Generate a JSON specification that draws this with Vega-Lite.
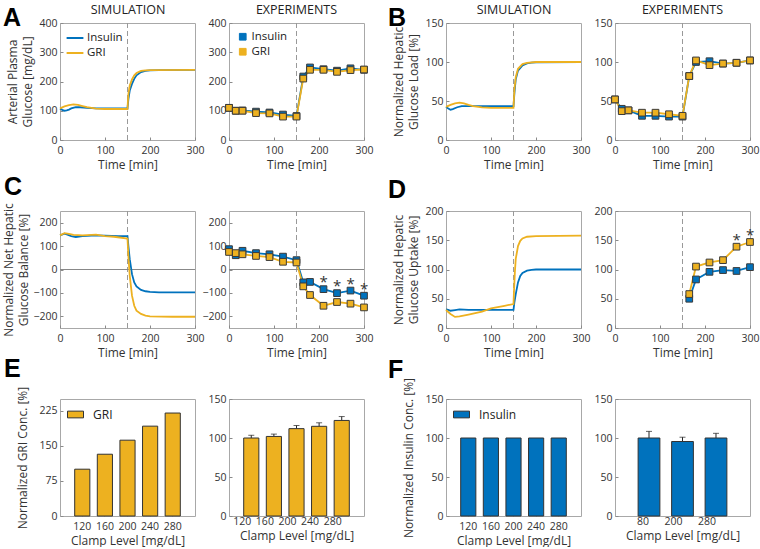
{
  "$schema": "https://vega.github.io/schema/vega-lite/v6.json",
  "padding": {"left": 2, "top": 2, "right": 0, "bottom": 0},
  "background": "white",
  "columns": 5,
  "bounds": "flush",
  "align": "each",
  "spacing": {"row": 71, "column": 34},
  "datasets": {
    "one": [{}],
    "simA": [
      {"t":0,"v":108,"s":"Insulin"},{"t":5,"v":103,"s":"Insulin"},{"t":10,"v":100,"s":"Insulin"},{"t":15,"v":101,"s":"Insulin"},{"t":20,"v":104,"s":"Insulin"},{"t":25,"v":108,"s":"Insulin"},{"t":35,"v":112,"s":"Insulin"},{"t":45,"v":112,"s":"Insulin"},{"t":60,"v":110,"s":"Insulin"},{"t":80,"v":108,"s":"Insulin"},{"t":100,"v":108,"s":"Insulin"},{"t":150,"v":108,"s":"Insulin"},{"t":152,"v":140,"s":"Insulin"},{"t":155,"v":169,"s":"Insulin"},{"t":160,"v":192,"s":"Insulin"},{"t":165,"v":209,"s":"Insulin"},{"t":170,"v":221,"s":"Insulin"},{"t":180,"v":232,"s":"Insulin"},{"t":190,"v":236,"s":"Insulin"},{"t":200,"v":238,"s":"Insulin"},{"t":220,"v":239,"s":"Insulin"},{"t":300,"v":240,"s":"Insulin"},
      {"t":0,"v":108,"s":"GRI"},{"t":10,"v":115,"s":"GRI"},{"t":20,"v":119,"s":"GRI"},{"t":30,"v":122,"s":"GRI"},{"t":40,"v":120,"s":"GRI"},{"t":50,"v":116,"s":"GRI"},{"t":60,"v":112,"s":"GRI"},{"t":80,"v":107,"s":"GRI"},{"t":100,"v":106,"s":"GRI"},{"t":150,"v":106,"s":"GRI"},{"t":151,"v":135,"s":"GRI"},{"t":152,"v":157,"s":"GRI"},{"t":155,"v":186,"s":"GRI"},{"t":160,"v":207,"s":"GRI"},{"t":165,"v":221,"s":"GRI"},{"t":170,"v":229,"s":"GRI"},{"t":180,"v":236,"s":"GRI"},{"t":190,"v":238,"s":"GRI"},{"t":200,"v":239,"s":"GRI"},{"t":300,"v":240,"s":"GRI"}
    ],
    "expA": [
      {"t":0,"v":110,"s":"Insulin"},{"t":15,"v":100,"s":"Insulin"},{"t":30,"v":101,"s":"Insulin"},{"t":60,"v":97,"s":"Insulin"},{"t":90,"v":94,"s":"Insulin"},{"t":120,"v":87,"s":"Insulin"},{"t":150,"v":82,"s":"Insulin"},{"t":165,"v":217,"s":"Insulin"},{"t":180,"v":248,"s":"Insulin"},{"t":210,"v":242,"s":"Insulin"},{"t":240,"v":237,"s":"Insulin"},{"t":270,"v":245,"s":"Insulin"},{"t":300,"v":240,"s":"Insulin"},
      {"t":0,"v":110,"s":"GRI"},{"t":15,"v":100,"s":"GRI"},{"t":30,"v":100,"s":"GRI"},{"t":60,"v":92,"s":"GRI"},{"t":90,"v":91,"s":"GRI"},{"t":120,"v":80,"s":"GRI"},{"t":150,"v":80,"s":"GRI"},{"t":165,"v":210,"s":"GRI"},{"t":180,"v":240,"s":"GRI"},{"t":210,"v":240,"s":"GRI"},{"t":240,"v":233,"s":"GRI"},{"t":270,"v":239,"s":"GRI"},{"t":300,"v":241,"s":"GRI"}
    ],
    "simB": [
      {"t":0,"v":42.5,"s":"Insulin"},{"t":5,"v":40.5,"s":"Insulin"},{"t":10,"v":38.8,"s":"Insulin"},{"t":15,"v":39.5,"s":"Insulin"},{"t":25,"v":42,"s":"Insulin"},{"t":35,"v":43.5,"s":"Insulin"},{"t":50,"v":43.5,"s":"Insulin"},{"t":150,"v":43.5,"s":"Insulin"},{"t":152,"v":60,"s":"Insulin"},{"t":155,"v":78,"s":"Insulin"},{"t":160,"v":89,"s":"Insulin"},{"t":170,"v":95.7,"s":"Insulin"},{"t":180,"v":98.3,"s":"Insulin"},{"t":190,"v":99.2,"s":"Insulin"},{"t":200,"v":99.6,"s":"Insulin"},{"t":300,"v":100,"s":"Insulin"},
      {"t":0,"v":42.5,"s":"GRI"},{"t":10,"v":45,"s":"GRI"},{"t":20,"v":47,"s":"GRI"},{"t":30,"v":47.8,"s":"GRI"},{"t":40,"v":47,"s":"GRI"},{"t":50,"v":45,"s":"GRI"},{"t":60,"v":43.3,"s":"GRI"},{"t":80,"v":41.8,"s":"GRI"},{"t":100,"v":41.2,"s":"GRI"},{"t":150,"v":41.2,"s":"GRI"},{"t":152,"v":65,"s":"GRI"},{"t":155,"v":80.5,"s":"GRI"},{"t":160,"v":91.3,"s":"GRI"},{"t":170,"v":97.4,"s":"GRI"},{"t":180,"v":99,"s":"GRI"},{"t":200,"v":100,"s":"GRI"},{"t":300,"v":100,"s":"GRI"}
    ],
    "expB": [
      {"t":0,"v":52,"s":"Insulin"},{"t":15,"v":40,"s":"Insulin"},{"t":30,"v":38,"s":"Insulin"},{"t":60,"v":31,"s":"Insulin"},{"t":90,"v":31,"s":"Insulin"},{"t":120,"v":30,"s":"Insulin"},{"t":150,"v":30,"s":"Insulin"},{"t":165,"v":82,"s":"Insulin"},{"t":180,"v":100,"s":"Insulin"},{"t":210,"v":101,"s":"Insulin"},{"t":240,"v":98,"s":"Insulin"},{"t":270,"v":99,"s":"Insulin"},{"t":300,"v":102,"s":"Insulin"},
      {"t":0,"v":52,"s":"GRI"},{"t":15,"v":37,"s":"GRI"},{"t":30,"v":38,"s":"GRI"},{"t":60,"v":35,"s":"GRI"},{"t":90,"v":35,"s":"GRI"},{"t":120,"v":33,"s":"GRI"},{"t":150,"v":31,"s":"GRI"},{"t":165,"v":82,"s":"GRI"},{"t":180,"v":102,"s":"GRI"},{"t":210,"v":96,"s":"GRI"},{"t":240,"v":98,"s":"GRI"},{"t":270,"v":99,"s":"GRI"},{"t":300,"v":102,"s":"GRI"}
    ],
    "simC": [
      {"t":0,"v":146,"s":"Insulin"},{"t":10,"v":153,"s":"Insulin"},{"t":15,"v":150,"s":"Insulin"},{"t":25,"v":143,"s":"Insulin"},{"t":35,"v":139,"s":"Insulin"},{"t":50,"v":143,"s":"Insulin"},{"t":80,"v":146,"s":"Insulin"},{"t":100,"v":145,"s":"Insulin"},{"t":130,"v":143,"s":"Insulin"},{"t":150,"v":143,"s":"Insulin"},{"t":152,"v":100,"s":"Insulin"},{"t":155,"v":44,"s":"Insulin"},{"t":160,"v":-20,"s":"Insulin"},{"t":165,"v":-55,"s":"Insulin"},{"t":170,"v":-72,"s":"Insulin"},{"t":180,"v":-87,"s":"Insulin"},{"t":190,"v":-93,"s":"Insulin"},{"t":200,"v":-96,"s":"Insulin"},{"t":220,"v":-98,"s":"Insulin"},{"t":300,"v":-98,"s":"Insulin"},
      {"t":0,"v":146,"s":"GRI"},{"t":10,"v":155,"s":"GRI"},{"t":20,"v":152,"s":"GRI"},{"t":30,"v":148,"s":"GRI"},{"t":50,"v":146,"s":"GRI"},{"t":70,"v":148,"s":"GRI"},{"t":80,"v":149,"s":"GRI"},{"t":100,"v":143,"s":"GRI"},{"t":120,"v":140,"s":"GRI"},{"t":150,"v":132,"s":"GRI"},{"t":152,"v":58,"s":"GRI"},{"t":155,"v":-27,"s":"GRI"},{"t":160,"v":-112,"s":"GRI"},{"t":165,"v":-155,"s":"GRI"},{"t":170,"v":-176,"s":"GRI"},{"t":180,"v":-190,"s":"GRI"},{"t":190,"v":-197,"s":"GRI"},{"t":200,"v":-200,"s":"GRI"},{"t":250,"v":-202,"s":"GRI"},{"t":300,"v":-202,"s":"GRI"}
    ],
    "expC": [
      {"t":0,"v":87,"s":"Insulin"},{"t":15,"v":61,"s":"Insulin"},{"t":30,"v":80,"s":"Insulin"},{"t":60,"v":70,"s":"Insulin"},{"t":90,"v":65,"s":"Insulin"},{"t":120,"v":55,"s":"Insulin"},{"t":150,"v":40,"s":"Insulin"},{"t":165,"v":-55,"s":"Insulin"},{"t":180,"v":-53,"s":"Insulin"},{"t":210,"v":-84,"s":"Insulin"},{"t":240,"v":-101,"s":"Insulin"},{"t":270,"v":-90,"s":"Insulin"},{"t":300,"v":-112,"s":"Insulin"},
      {"t":0,"v":75,"s":"GRI"},{"t":15,"v":70,"s":"GRI"},{"t":30,"v":65,"s":"GRI"},{"t":60,"v":58,"s":"GRI"},{"t":90,"v":53,"s":"GRI"},{"t":120,"v":33,"s":"GRI"},{"t":150,"v":30,"s":"GRI"},{"t":165,"v":-72,"s":"GRI"},{"t":180,"v":-109,"s":"GRI"},{"t":210,"v":-155,"s":"GRI"},{"t":240,"v":-139,"s":"GRI"},{"t":270,"v":-146,"s":"GRI"},{"t":300,"v":-162,"s":"GRI"}
    ],
    "starsC": [
      {"t":210,"v":-84},{"t":240,"v":-101},{"t":270,"v":-90},{"t":300,"v":-112}
    ],
    "simD": [
      {"t":0,"v":32,"s":"Insulin"},{"t":5,"v":31,"s":"Insulin"},{"t":10,"v":29.5,"s":"Insulin"},{"t":20,"v":30.7,"s":"Insulin"},{"t":30,"v":31.8,"s":"Insulin"},{"t":50,"v":31,"s":"Insulin"},{"t":150,"v":31,"s":"Insulin"},{"t":152,"v":44,"s":"Insulin"},{"t":155,"v":58,"s":"Insulin"},{"t":160,"v":78,"s":"Insulin"},{"t":165,"v":89,"s":"Insulin"},{"t":170,"v":94,"s":"Insulin"},{"t":180,"v":98,"s":"Insulin"},{"t":190,"v":99.4,"s":"Insulin"},{"t":200,"v":100,"s":"Insulin"},{"t":300,"v":100,"s":"Insulin"},
      {"t":0,"v":30.7,"s":"GRI"},{"t":10,"v":24,"s":"GRI"},{"t":20,"v":19,"s":"GRI"},{"t":30,"v":20,"s":"GRI"},{"t":50,"v":23,"s":"GRI"},{"t":80,"v":28,"s":"GRI"},{"t":100,"v":33.5,"s":"GRI"},{"t":130,"v":38,"s":"GRI"},{"t":150,"v":41,"s":"GRI"},{"t":151,"v":61,"s":"GRI"},{"t":153,"v":95,"s":"GRI"},{"t":155,"v":118,"s":"GRI"},{"t":160,"v":140,"s":"GRI"},{"t":165,"v":149,"s":"GRI"},{"t":170,"v":153,"s":"GRI"},{"t":180,"v":156,"s":"GRI"},{"t":200,"v":157,"s":"GRI"},{"t":300,"v":158,"s":"GRI"}
    ],
    "expD": [
      {"t":165,"v":50,"s":"Insulin"},{"t":180,"v":83,"s":"Insulin"},{"t":210,"v":96,"s":"Insulin"},{"t":240,"v":99,"s":"Insulin"},{"t":270,"v":97.5,"s":"Insulin"},{"t":300,"v":104,"s":"Insulin"},
      {"t":165,"v":58,"s":"GRI"},{"t":180,"v":105,"s":"GRI"},{"t":210,"v":112,"s":"GRI"},{"t":240,"v":116,"s":"GRI"},{"t":270,"v":139,"s":"GRI"},{"t":300,"v":147,"s":"GRI"}
    ],
    "starsD": [
      {"t":270,"v":139},{"t":300,"v":147}
    ],
    "barEsim": [
      {"c":"120","v":100,"g":"GRI"},{"c":"160","v":132,"g":"GRI"},{"c":"200","v":162,"g":"GRI"},{"c":"240","v":192,"g":"GRI"},{"c":"280","v":220,"g":"GRI"}
    ],
    "barEexp": [
      {"c":"120","v":100,"e":103.5},{"c":"160","v":102,"e":105},{"c":"200","v":112,"e":116},{"c":"240","v":115,"e":119.5},{"c":"280","v":122.5,"e":127.5}
    ],
    "barFsim": [
      {"c":"120","v":100,"g":"Insulin"},{"c":"160","v":100,"g":"Insulin"},{"c":"200","v":100,"g":"Insulin"},{"c":"240","v":100,"g":"Insulin"},{"c":"280","v":100,"g":"Insulin"}
    ],
    "barFexp": [
      {"c":"80","v":100,"e":108.5},{"c":"200","v":95.5,"e":101},{"c":"280","v":100,"e":106}
    ]
  },
  "concat": [
    {
      "width": 135, "height": 117,
      "title": {"text": "A", "anchor": "start", "frame": "group", "dx": -57, "font": "Liberation Sans", "fontSize": 25, "fontWeight": "bold", "color": "#000", "offset": -28},
      "layer": [
        {"data": {"name": "one"}, "mark": {"type": "rule", "color": "#999", "strokeDash": [5, 3]}, "encoding": {"x": {"datum": 150, "type": "quantitative", "axis": null}}},
        {"data": {"name": "simA"}, "mark": {"type": "line", "strokeWidth": 1.8},
         "encoding": {
           "x": {"field": "t", "type": "quantitative", "scale": {"domain": [0, 300], "nice": false}, "axis": {"values": [0, 100, 200, 300], "tickCount": 4, "title": "Time [min]"}},
           "y": {"field": "v", "type": "quantitative", "scale": {"domain": [0, 400], "nice": false}, "axis": {"values": [0, 100, 200, 300, 400], "tickCount": 5, "labelOverlap": false, "title": ["Arterial Plasma", "Glucose [mg/dL]"]}},
           "color": {"field": "s", "type": "nominal", "scale": {"domain": ["Insulin", "GRI"], "range": ["#0072BD", "#EDB120"]}, "legend": {"orient": "top-left", "offset": 8, "title": null, "symbolType": "M-1.4,0H1.4", "symbolSize": 144, "symbolStrokeWidth": 2, "rowPadding": 2, "labelOffset": 5, "labelFontSize": 11.5}}
         }},
        {"data": {"name": "simA"}, "mark": {"type": "point", "opacity": 0},
         "encoding": {"x": {"field": "t", "type": "quantitative", "axis": {"orient": "top", "title": "SIMULATION", "labels": false, "ticks": false, "domain": false, "titleFontSize": 12.5, "titleColor": "#222", "titlePadding": 7}}}}
      ],
      "resolve": {"axis": {"x": "independent"}}
    },
    {
      "width": 135, "height": 117,
      "title": {"text": "EXPERIMENTS", "fontSize": 12.5, "fontWeight": "normal", "font": "Open Sans", "color": "#222", "offset": 2},
      "data": {"name": "expA"},
      "layer": [
        {"data": {"name": "one"}, "mark": {"type": "rule", "color": "#999", "strokeDash": [5, 3]}, "encoding": {"x": {"datum": 150, "type": "quantitative"}}},
        {"mark": {"type": "line", "strokeWidth": 1.8},
         "encoding": {
           "x": {"field": "t", "type": "quantitative", "scale": {"domain": [0, 300], "nice": false}, "axis": {"values": [0, 100, 200, 300], "tickCount": 4, "title": "Time [min]"}},
           "y": {"field": "v", "type": "quantitative", "scale": {"domain": [0, 400], "nice": false}, "axis": {"values": [0, 100, 200, 300, 400], "tickCount": 5, "labelOverlap": false, "title": null}},
           "color": {"field": "s", "type": "nominal", "scale": {"domain": ["Insulin", "GRI"], "range": ["#0072BD", "#EDB120"]}, "legend": {"orient": "top-left", "offset": 8, "title": null, "symbolType": "square", "symbolSize": 45, "symbolStrokeWidth": 1, "rowPadding": 2, "labelFontSize": 11.5}}
         }},
        {"mark": {"type": "point", "shape": "square", "filled": true, "size": 45, "opacity": 1, "strokeWidth": 1, "stroke": "#3a3a3a"},
         "encoding": {
           "x": {"field": "t", "type": "quantitative"},
           "y": {"field": "v", "type": "quantitative"},
           "fill": {"field": "s", "type": "nominal", "scale": {"domain": ["Insulin", "GRI"], "range": ["#0072BD", "#EDB120"]}, "legend": {"orient": "top-left", "offset": 8, "title": null, "symbolType": "square", "symbolSize": 45, "symbolStrokeWidth": 1, "rowPadding": 2, "labelFontSize": 11.5}}
         }}
      ]
    },
    {"width": 14, "height": 117, "data": {"values": []}, "mark": "point", "view": {"stroke": null}},
    {
      "width": 135, "height": 117,
      "title": {"text": "B", "anchor": "start", "frame": "group", "dx": -58, "font": "Liberation Sans", "fontSize": 25, "fontWeight": "bold", "color": "#000", "offset": -28},
      "layer": [
        {"data": {"name": "one"}, "mark": {"type": "rule", "color": "#999", "strokeDash": [5, 3]}, "encoding": {"x": {"datum": 150, "type": "quantitative", "axis": null}}},
        {"data": {"name": "simB"}, "mark": {"type": "line", "strokeWidth": 1.8},
         "encoding": {
           "x": {"field": "t", "type": "quantitative", "scale": {"domain": [0, 300], "nice": false}, "axis": {"values": [0, 100, 200, 300], "tickCount": 4, "title": "Time [min]"}},
           "y": {"field": "v", "type": "quantitative", "scale": {"domain": [0, 150], "nice": false}, "axis": {"values": [0, 50, 100, 150], "tickCount": 4, "labelOverlap": false, "title": ["Normalized Hepatic", "Glucose Load [%]"]}},
           "color": {"field": "s", "type": "nominal", "scale": {"domain": ["Insulin", "GRI"], "range": ["#0072BD", "#EDB120"]}, "legend": null}
         }},
        {"data": {"name": "simB"}, "mark": {"type": "point", "opacity": 0},
         "encoding": {"x": {"field": "t", "type": "quantitative", "axis": {"orient": "top", "title": "SIMULATION", "labels": false, "ticks": false, "domain": false, "titleFontSize": 12.5, "titleColor": "#222", "titlePadding": 7}}}}
      ],
      "resolve": {"axis": {"x": "independent"}}
    },
    {
      "width": 135, "height": 117,
      "title": {"text": "EXPERIMENTS", "fontSize": 12.5, "fontWeight": "normal", "font": "Open Sans", "color": "#222", "offset": 2},
      "data": {"name": "expB"},
      "layer": [
        {"data": {"name": "one"}, "mark": {"type": "rule", "color": "#999", "strokeDash": [5, 3]}, "encoding": {"x": {"datum": 150, "type": "quantitative"}}},
        {"mark": {"type": "line", "strokeWidth": 1.8},
         "encoding": {
           "x": {"field": "t", "type": "quantitative", "scale": {"domain": [0, 300], "nice": false}, "axis": {"values": [0, 100, 200, 300], "tickCount": 4, "title": "Time [min]"}},
           "y": {"field": "v", "type": "quantitative", "scale": {"domain": [0, 150], "nice": false}, "axis": {"values": [0, 50, 100, 150], "tickCount": 4, "labelOverlap": false, "title": null}},
           "color": {"field": "s", "type": "nominal", "scale": {"domain": ["Insulin", "GRI"], "range": ["#0072BD", "#EDB120"]}, "legend": null}
         }},
        {"mark": {"type": "point", "shape": "square", "filled": true, "size": 45, "opacity": 1, "strokeWidth": 1, "stroke": "#3a3a3a"},
         "encoding": {
           "x": {"field": "t", "type": "quantitative"},
           "y": {"field": "v", "type": "quantitative"},
           "fill": {"field": "s", "type": "nominal", "scale": {"domain": ["Insulin", "GRI"], "range": ["#0072BD", "#EDB120"]}, "legend": null}
         }}
      ]
    },
    {
      "width": 135, "height": 117,
      "title": {"text": "C", "anchor": "start", "frame": "group", "dx": -56, "font": "Liberation Sans", "fontSize": 25, "fontWeight": "bold", "color": "#000", "offset": 3},
      "layer": [
        {"data": {"name": "one"}, "mark": {"type": "rule", "color": "#999", "strokeDash": [5, 3]}, "encoding": {"x": {"datum": 150, "type": "quantitative"}}},
        {"data": {"name": "one"}, "mark": {"type": "rule", "color": "#888", "strokeWidth": 1}, "encoding": {"y": {"datum": 0, "type": "quantitative"}}},
        {"data": {"name": "simC"}, "mark": {"type": "line", "strokeWidth": 1.8},
         "encoding": {
           "x": {"field": "t", "type": "quantitative", "scale": {"domain": [0, 300], "nice": false}, "axis": {"values": [0, 100, 200, 300], "tickCount": 4, "title": "Time [min]"}},
           "y": {"field": "v", "type": "quantitative", "scale": {"domain": [-250, 250], "nice": false}, "axis": {"values": [-200, -100, 0, 100, 200], "tickCount": 5, "labelOverlap": false, "titlePadding": 2, "title": ["Normalized Net Hepatic", "Glucose Balance [%]"]}},
           "color": {"field": "s", "type": "nominal", "scale": {"domain": ["Insulin", "GRI"], "range": ["#0072BD", "#EDB120"]}, "legend": null}
         }}
      ]
    },
    {
      "width": 135, "height": 117,
      "layer": [
        {"data": {"name": "one"}, "mark": {"type": "rule", "color": "#999", "strokeDash": [5, 3]}, "encoding": {"x": {"datum": 150, "type": "quantitative"}}},
        {"data": {"name": "one"}, "mark": {"type": "rule", "color": "#888", "strokeWidth": 1}, "encoding": {"y": {"datum": 0, "type": "quantitative"}}},
        {"data": {"name": "expC"}, "mark": {"type": "line", "strokeWidth": 1.8},
         "encoding": {
           "x": {"field": "t", "type": "quantitative", "scale": {"domain": [0, 300], "nice": false}, "axis": {"values": [0, 100, 200, 300], "tickCount": 4, "title": "Time [min]"}},
           "y": {"field": "v", "type": "quantitative", "scale": {"domain": [-250, 250], "nice": false}, "axis": {"values": [-200, -100, 0, 100, 200], "tickCount": 5, "labelOverlap": false, "title": null}},
           "color": {"field": "s", "type": "nominal", "scale": {"domain": ["Insulin", "GRI"], "range": ["#0072BD", "#EDB120"]}, "legend": null}
         }},
        {"data": {"name": "expC"}, "mark": {"type": "point", "shape": "square", "filled": true, "size": 45, "opacity": 1, "strokeWidth": 1, "stroke": "#3a3a3a"},
         "encoding": {
           "x": {"field": "t", "type": "quantitative"},
           "y": {"field": "v", "type": "quantitative"},
           "fill": {"field": "s", "type": "nominal", "scale": {"domain": ["Insulin", "GRI"], "range": ["#0072BD", "#EDB120"]}, "legend": null}
         }},
        {"data": {"name": "starsC"}, "mark": {"type": "text", "text": "*", "fontSize": 15, "color": "#333", "dy": -7},
         "encoding": {"x": {"field": "t", "type": "quantitative"}, "y": {"field": "v", "type": "quantitative"}}}
      ]
    },
    {"width": 14, "height": 117, "data": {"values": []}, "mark": "point", "view": {"stroke": null}},
    {
      "width": 135, "height": 117,
      "title": {"text": "D", "anchor": "start", "frame": "group", "dx": -58, "font": "Liberation Sans", "fontSize": 25, "fontWeight": "bold", "color": "#000", "offset": 3},
      "layer": [
        {"data": {"name": "one"}, "mark": {"type": "rule", "color": "#999", "strokeDash": [5, 3]}, "encoding": {"x": {"datum": 150, "type": "quantitative"}}},
        {"data": {"name": "simD"}, "mark": {"type": "line", "strokeWidth": 1.8},
         "encoding": {
           "x": {"field": "t", "type": "quantitative", "scale": {"domain": [0, 300], "nice": false}, "axis": {"values": [0, 100, 200, 300], "tickCount": 4, "title": "Time [min]"}},
           "y": {"field": "v", "type": "quantitative", "scale": {"domain": [0, 200], "nice": false}, "axis": {"values": [0, 50, 100, 150, 200], "tickCount": 5, "labelOverlap": false, "title": ["Normalized Hepatic", "Glucose Uptake [%]"]}},
           "color": {"field": "s", "type": "nominal", "scale": {"domain": ["Insulin", "GRI"], "range": ["#0072BD", "#EDB120"]}, "legend": null}
         }}
      ]
    },
    {
      "width": 135, "height": 117,
      "layer": [
        {"data": {"name": "one"}, "mark": {"type": "rule", "color": "#999", "strokeDash": [5, 3]}, "encoding": {"x": {"datum": 150, "type": "quantitative"}}},
        {"data": {"name": "expD"}, "mark": {"type": "line", "strokeWidth": 1.8},
         "encoding": {
           "x": {"field": "t", "type": "quantitative", "scale": {"domain": [0, 300], "nice": false}, "axis": {"values": [0, 100, 200, 300], "tickCount": 4, "title": "Time [min]"}},
           "y": {"field": "v", "type": "quantitative", "scale": {"domain": [0, 200], "nice": false}, "axis": {"values": [0, 50, 100, 150, 200], "tickCount": 5, "labelOverlap": false, "title": null}},
           "color": {"field": "s", "type": "nominal", "scale": {"domain": ["Insulin", "GRI"], "range": ["#0072BD", "#EDB120"]}, "legend": null}
         }},
        {"data": {"name": "expD"}, "mark": {"type": "point", "shape": "square", "filled": true, "size": 45, "opacity": 1, "strokeWidth": 1, "stroke": "#3a3a3a"},
         "encoding": {
           "x": {"field": "t", "type": "quantitative"},
           "y": {"field": "v", "type": "quantitative"},
           "fill": {"field": "s", "type": "nominal", "scale": {"domain": ["Insulin", "GRI"], "range": ["#0072BD", "#EDB120"]}, "legend": null}
         }},
        {"data": {"name": "starsD"}, "mark": {"type": "text", "text": "*", "fontSize": 15, "color": "#333", "dy": -7},
         "encoding": {"x": {"field": "t", "type": "quantitative"}, "y": {"field": "v", "type": "quantitative"}}}
      ]
    },
    {
      "width": 135, "height": 117,
      "title": {"text": "E", "anchor": "start", "frame": "group", "dx": -56, "font": "Liberation Sans", "fontSize": 25, "fontWeight": "bold", "color": "#000", "offset": 4},
      "data": {"name": "barEsim"},
      "mark": {"type": "bar", "stroke": "#333", "strokeWidth": 1},
      "encoding": {
        "x": {"field": "c", "type": "nominal", "sort": null, "scale": {"paddingInner": 0.33, "paddingOuter": 0.65}, "axis": {"title": "Clamp Level [mg/dL]", "labelAngle": 0}},
        "y": {"field": "v", "type": "quantitative", "scale": {"domain": [0, 250], "nice": false}, "axis": {"values": [0, 75, 150, 225], "tickCount": 4, "labelOverlap": false, "titlePadding": 9, "title": "Normalized GRI Conc. [%]"}},
        "fill": {"field": "g", "type": "nominal", "scale": {"domain": ["GRI"], "range": ["#EDB120"]}, "legend": {"orient": "top-left", "offset": 7, "title": null, "symbolType": "M-1,-0.42H1V0.42H-1Z", "symbolSize": 256, "symbolStrokeColor": "#333", "symbolStrokeWidth": 1, "labelOffset": 9}}
      }
    },
    {
      "width": 135, "height": 117,
      "data": {"name": "barEexp"},
      "layer": [
        {"mark": {"type": "rule", "color": "#222", "strokeWidth": 1}, "encoding": {"x": {"field": "c", "type": "nominal", "sort": null}, "y": {"field": "v", "type": "quantitative"}, "y2": {"field": "e"}}},
        {"mark": {"type": "tick", "color": "#222", "thickness": 1, "size": 6}, "encoding": {"x": {"field": "c", "type": "nominal", "sort": null}, "y": {"field": "e", "type": "quantitative"}}},
        {"mark": {"type": "bar", "fill": "#EDB120", "stroke": "#333", "strokeWidth": 1},
         "encoding": {
           "x": {"field": "c", "type": "nominal", "sort": null, "scale": {"paddingInner": 0.33, "paddingOuter": 0.65}, "axis": {"title": "Clamp Level [mg/dL]", "labelAngle": 0}},
           "y": {"field": "v", "type": "quantitative", "scale": {"domain": [0, 150], "nice": false}, "axis": {"values": [0, 50, 100, 150], "tickCount": 4, "labelOverlap": false, "title": null}}
         }}
      ]
    },
    {"width": 14, "height": 117, "data": {"values": []}, "mark": "point", "view": {"stroke": null}},
    {
      "width": 135, "height": 117,
      "title": {"text": "F", "anchor": "start", "frame": "group", "dx": -58, "font": "Liberation Sans", "fontSize": 25, "fontWeight": "bold", "color": "#000", "offset": -6},
      "data": {"name": "barFsim"},
      "mark": {"type": "bar", "stroke": "#333", "strokeWidth": 1},
      "encoding": {
        "x": {"field": "c", "type": "nominal", "sort": null, "scale": {"paddingInner": 0.33, "paddingOuter": 0.65}, "axis": {"title": "Clamp Level [mg/dL]", "labelAngle": 0}},
        "y": {"field": "v", "type": "quantitative", "scale": {"domain": [0, 150], "nice": false}, "axis": {"values": [0, 50, 100, 150], "tickCount": 4, "labelOverlap": false, "titlePadding": 9, "title": "Normalized Insulin Conc. [%]"}},
        "fill": {"field": "g", "type": "nominal", "scale": {"domain": ["Insulin"], "range": ["#0072BD"]}, "legend": {"orient": "top-left", "offset": 7, "title": null, "symbolType": "M-1,-0.42H1V0.42H-1Z", "symbolSize": 256, "symbolStrokeColor": "#333", "symbolStrokeWidth": 1, "labelOffset": 9}}
      }
    },
    {
      "width": 135, "height": 117,
      "data": {"name": "barFexp"},
      "layer": [
        {"mark": {"type": "rule", "color": "#222", "strokeWidth": 1}, "encoding": {"x": {"field": "c", "type": "nominal", "sort": null}, "y": {"field": "v", "type": "quantitative"}, "y2": {"field": "e"}}},
        {"mark": {"type": "tick", "color": "#222", "thickness": 1, "size": 6}, "encoding": {"x": {"field": "c", "type": "nominal", "sort": null}, "y": {"field": "e", "type": "quantitative"}}},
        {"mark": {"type": "bar", "fill": "#0072BD", "stroke": "#333", "strokeWidth": 1},
         "encoding": {
           "x": {"field": "c", "type": "nominal", "sort": null, "scale": {"paddingInner": 0.35, "paddingOuter": 0.69}, "axis": {"title": "Clamp Level [mg/dL]", "labelAngle": 0}},
           "y": {"field": "v", "type": "quantitative", "scale": {"domain": [0, 150], "nice": false}, "axis": {"values": [0, 50, 100, 150], "tickCount": 4, "labelOverlap": false, "title": null}}
         }}
      ]
    }
  ],
  "resolve": {
    "scale": {"color": "independent", "fill": "independent", "stroke": "independent"},
    "legend": {"color": "independent", "fill": "independent", "stroke": "independent"}
  },
  "config": {
    "font": "Open Sans",
    "view": {"stroke": "#a8a8a8", "strokeWidth": 1},
    "axis": {"grid": false, "domain": false, "tickColor": "#8a8a8a", "tickSize": -3, "labelFont": "Open Sans", "labelFontSize": 10.5, "labelFontWeight": "normal", "labelColor": "#333", "labelFlush": false, "labelOverlap": false, "titleFont": "Open Sans", "titleFontSize": 12, "titleFontWeight": "normal", "titleColor": "#333", "titleLineHeight": 15},
    "axisX": {"labelPadding": 8.5, "titlePadding": 3, "titleFontWeight": "normal", "labelFontWeight": "normal"},
    "axisY": {"labelPadding": 6, "titlePadding": 4, "titleFontWeight": "normal", "labelFontWeight": "normal"},
    "legend": {"labelFont": "Open Sans", "labelFontSize": 12, "labelColor": "#222", "padding": 0, "rowPadding": -1, "labelOffset": 3}
  }
}
